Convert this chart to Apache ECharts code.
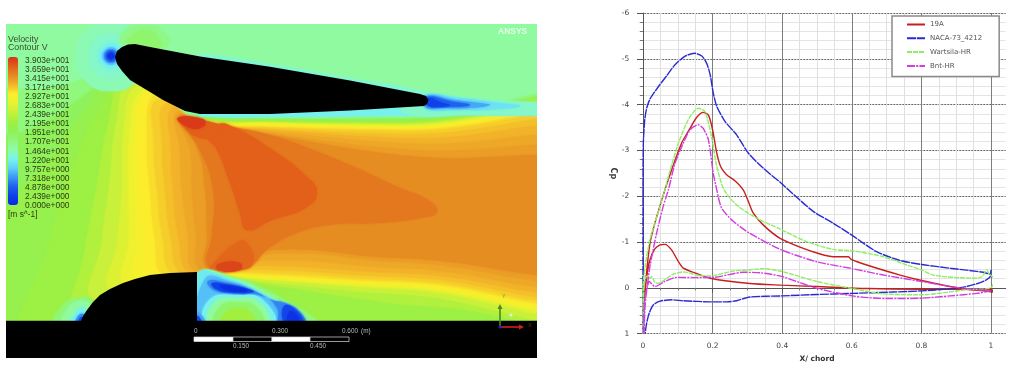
<!DOCTYPE html>
<html>
<head>
<meta charset="utf-8">
<style>
  html, body { margin: 0; padding: 0; background: #fff; }
  #chart { width: 1023px; height: 377px; }
</style>
<script src="https://cdn.jsdelivr.net/npm/echarts@6/dist/echarts.min.js"></script>
</head>
<body>
<div id="chart"></div>
<script>
// contour legend, bottom to top
const legendLabels = ["0.000e+000","2.439e+000","4.878e+000","7.318e+000","9.757e+000","1.220e+001","1.464e+001","1.707e+001","1.951e+001","2.195e+001","2.439e+001","2.683e+001","2.927e+001","3.171e+001","3.415e+001","3.659e+001","3.903e+001"];
const legendColors = ["#0a28e0","#0f40e8","#2060f0","#3c98f4","#60d0f8","#78f4ec","#90faa8","#8ff87c","#8ff055","#a0f040","#c8f03a","#e8f230","#fbee2c","#f2b42a","#e58a22","#e2601a","#d8301a"];
const velocityMax = 39.03;

// velocity contours: [level, outline], painted back to front
const outerBands = [
  [15, [[-60,15],[620,15],[620,365],[-60,365]]],
  [17, [[-60,102],[50,88],[95,75],[118,70],[160,110],[200,116],[270,118],[400,117],[620,115.5],[620,345],[-60,345]]],
  [19, [[-60,165],[40,125],[85,95],[119,71],[160,112],[200,117],[270,119],[400,119],[620,118],[620,345],[-60,345]]],
  [20.5, [[-60,260],[40,170],[85,110],[120,73],[165,114],[200,118],[270,120],[400,120.5],[620,119.5],[620,345],[-60,345]]],
  [21.5, [[35,345],[50,240],[80,150],[100,110],[122,76],[165,115],[200,118.5],[270,120.5],[400,121.5],[620,120.5],[620,345]]],
  [23, [[70,345],[85,250],[98,180],[108,125],[125,78],[165,110],[200,119],[270,122],[400,123],[620,122],[620,310],[430,306],[350,297],[270,285],[200,278]]],
  [24.5, [[95,300],[102,240],[110,180],[116,125],[130,82],[165,105],[200,119.5],[270,122.5],[400,124],[620,124],[620,303],[400,294],[270,283],[197,276]]],
  [26, [[112,290],[118,240],[122,190],[124,130],[136,87],[165,103],[200,120],[270,123],[400,125],[620,126],[620,297],[400,289],[270,280],[197,275]]],
  [27.5, [[126,285],[129,240],[129,190],[130,135],[141,92],[165,104],[200,120.5],[270,123.5],[400,126],[620,127],[620,294],[400,287],[270,279],[197,274.5]]]
];
const coreBands = [
  [28.5, [[138,280],[136,240],[134,190],[134,140],[144,94],[165,104],[200,121],[270,124],[400,127],[620,128],[620,292],[400,286],[270,278],[197,274]]],
  [29.3, [[147,92],[139,140],[140,190],[145,240],[150,276],[197,272.5],[270,276],[400,283],[620,288],[620,130],[400,128],[270,125.5],[200,122],[165,104]]],
  [30, [[152,97],[147,140],[150,190],[155,240],[163,275],[197,272],[270,275],[400,282],[620,286],[620,132],[400,129.5],[270,126.5],[200,122.5],[168,106]]],
  [30.6, [[157,100],[154,145],[157,190],[163,240],[172,274],[197,272],[270,273],[400,280],[620,283.5],[620,134],[400,131],[270,127.5],[200,123]]],
  [31.2, [[165,104],[162,145],[165,190],[171,240],[180,273],[200,271],[270,270],[400,277],[620,280],[620,138],[400,134],[270,129],[200,123.5]]],
  [31.8, [[172,108],[171,150],[173,190],[179,240],[188,272],[210,270],[270,266],[400,273],[620,276],[620,145],[400,138],[270,130],[200,124]]],
  [32.4, [[176,112],[180,150],[182,190],[188,235],[194,271],[225,270],[270,260],[400,268],[620,272],[620,155],[400,143],[270,132],[200,125]]],
  [33, [[178,115],[190,150],[192,190],[196,235],[200,270],[235,270],[270,254],[400,262],[620,268],[620,165],[400,149],[270,134],[205,125]]],
  [34, [[180,117],[198,150],[205,190],[207,235],[207,268],[240,270],[253,265],[270,250],[400,258],[620,263],[620,175],[400,155],[270,135],[210,125]]],
  [35.2, [[180,118],[200,150],[213,190],[212,235],[208,266],[230,268],[253,263],[262,254],[270,247],[297,233],[330,225],[380,223],[420,218],[437,212],[428,200],[400,188],[350,165],[300,145],[270,135],[233,127],[210,123]]],
  [36.6, [[207,135],[217,150],[230,183],[240,213],[247,230],[270,221],[307,207],[317,192],[307,177],[277,153],[233,127],[218,124]]],
  [36.6, [[178,118],[218,124],[218,130],[213,137],[197,137],[185,127]]],
  [38.5, [[178,118],[203,119],[204,126],[190,128]]],
  [36.2, [[210,267],[237,242],[247,243],[253,263],[240,270],[210,270]]],
  [38, [[218,264],[240,263],[240,270],[218,270]]]
];
const noseBands = [
  [14.2, [[76,56],[86,31],[111,21],[136,31],[146,56],[136,81],[111,91],[86,81]]],
  [13.5, [[89,56],[95,40],[111,34],[127,40],[133,56],[127,72],[111,78],[95,72]]],
  [12, [[98,56],[102,47],[111,43],[120,47],[124,56],[120,65],[111,69],[102,65]]],
  [9.5, [[102,56],[105,50],[111,47],[117,50],[120,56],[117,62],[111,65],[105,62]]],
  [6, [[104.5,56],[106,51.5],[111,49.5],[116,51.5],[117.5,56],[116,60.5],[111,62.5],[106,60.5]]],
  [3, [[106.5,56],[108,53],[111,51.5],[114,53],[115.5,56],[114,59],[111,60.5],[108,59]]],
  [1, [[108,56],[109,54.5],[111,53.5],[113,54.5],[114,56],[113,57.5],[111,58.5],[109,57.5]]],
  [16.5, [[120,42],[127,29],[143,25],[162,30],[168,46],[135,48]]],
  [18, [[129,44],[135,33],[148,30],[157,36],[160,47]]]
];
const tailBands = [
  [13, [[200,54],[270,64.5],[350,78.5],[428,92.5],[428,96],[270,67],[200,57]]],
  [12, [[200,112],[270,112],[420,104],[480,108],[620,111],[620,114.5],[400,115.5],[270,117],[200,116]]],
  [13.5, [[405,93],[440,94.5],[490,100],[620,107],[620,115],[480,114],[405,113]]],
  [11, [[425,95],[460,98],[500,103],[520,106],[500,109],[460,110],[425,108]]],
  [8, [[426,96],[455,100],[480,103],[490,105],[470,108],[440,108],[425,107]]],
  [5, [[427,97],[450,101],[470,105],[450,107],[427,106]]],
  [2.5, [[428,98],[443,103],[450,105],[437,106.5],[428,105]]]
];
const wakeBands = [
  [17, [[197,274],[240,279],[262,288],[285,300],[310,315],[318,325],[197,325]]],
  [14.5, [[197,274],[238,280],[260,290],[282,303],[305,320],[310,325],[197,325]]],
  [11.5, [[197,274],[235,281],[257,291],[279,304],[298,320],[303,325],[197,325]]],
  [9, [[205,279],[232,282],[255,292],[278,305],[296,325],[205,325]]],
  [6.5, [[208,281],[228,283],[254,291],[272,300],[285,303],[300,312],[305,325],[280,325],[277,308],[262,296],[235,294],[214,290]]],
  [2.5, [[212,283],[228,284.5],[248,289],[254,292],[235,293],[216,289]]],
  [0.5, [[220,286],[235,287],[248,291],[232,291]]],
  [3, [[284,306],[297,311],[303,325],[286,325]]],
  [1, [[289,312],[297,315],[299,325],[289,325]]],
  [12, [[207,325],[209,300],[238,295],[263,300],[273,325]]],
  [15, [[211,325],[214,303],[238,298],[260,303],[267,325]]],
  [18, [[216,325],[220,307],[238,302],[256,307],[262,325]]],
  [22, [[222,325],[226,312],[238,308],[250,312],[254,325]]],
  [8, [[197,312],[203,317],[205,325],[197,325]]],
  [3, [[197,316],[201,320],[202,325],[197,325]]],
  [17.5, [[55,325],[63,305],[78,298],[92,300],[100,325]]],
  [15, [[63,325],[69,307],[80,301],[90,305],[96,325]]],
  [12, [[72,325],[76,312],[84,308],[90,325]]],
  [7, [[76,325],[79,315],[85,315],[88,325]]],
  [3, [[78.5,325],[81,317],[84,320],[84,325]]]
];
const fieldBands = [...outerBands, ...coreBands, ...noseBands, ...tailBands, ...wakeBands];

// solid bodies in the same field coordinates
const upperFoil = [[115,57],[117,51],[122,47],[128,44.5],[135,44],[150,47],[200,56.5],[270,66.7],[350,80.5],[420,94],[426,96],[428.5,100],[427,104],[424,106],[350,110.5],[270,114],[200,114],[185,111],[177,107],[163,100],[150,92],[130,80],[122,71],[117,64]];
const lowerWall = [[6,320.7],[81,320.7],[83,316],[87,310],[93,302],[100,295],[110,289],[123,283],[135,279],[150,275],[170,273],[197,272],[197,320.7],[537,320.7],[537,358],[6,358]];

// pressure coefficient curves, [x/chord, Cp], suction side then pressure side
const names = ["19A", "NACA-73_4212", "Wartsila-HR", "Bnt-HR"];
const cp19A = [[0,1],[0.002,0.33],[0.011,-0.39],[0.02,-0.97],[0.034,-1.41],[0.063,-2.14],[0.082,-2.57],[0.111,-3.16],[0.135,-3.48],[0.154,-3.72],[0.173,-3.83],[0.188,-3.77],[0.2,-3.45],[0.212,-2.94],[0.223,-2.65],[0.24,-2.47],[0.264,-2.34],[0.288,-2.14],[0.303,-1.88],[0.317,-1.63],[0.346,-1.37],[0.394,-1.08],[0.451,-0.89],[0.509,-0.74],[0.547,-0.68],[0.59,-0.68],[0.597,-0.63],[0.643,-0.5],[0.739,-0.28],[0.801,-0.16],[0.882,-0.03],[0.93,0.03],[0.978,0.065],[1.013,0.095],[1.001,0.04],[0.93,0.03],[0.801,0.03],[0.643,0.015],[0.499,-0.03],[0.398,-0.06],[0.307,-0.095],[0.193,-0.21],[0.145,-0.34],[0.116,-0.43],[0.102,-0.57],[0.082,-0.83],[0.063,-0.95],[0.049,-0.94],[0.034,-0.85],[0.02,-0.61],[0.011,-0.25],[0.004,0.26],[0,1]];
const cpNaca = [[0,1],[0,-2.2],[0.001,-3.16],[0.005,-3.67],[0.0105,-3.92],[0.02,-4.12],[0.044,-4.39],[0.068,-4.63],[0.092,-4.87],[0.121,-5.06],[0.149,-5.12],[0.169,-5.06],[0.183,-4.9],[0.193,-4.65],[0.202,-4.25],[0.212,-3.96],[0.236,-3.63],[0.269,-3.34],[0.303,-2.94],[0.346,-2.61],[0.398,-2.28],[0.418,-2.14],[0.489,-1.67],[0.547,-1.41],[0.602,-1.14],[0.671,-0.79],[0.738,-0.6],[0.801,-0.51],[0.882,-0.43],[0.978,-0.34],[0.997,-0.3],[1,-0.39],[0.999,-0.26],[0.978,-0.14],[0.93,-0.03],[0.882,0.02],[0.801,0.065],[0.719,0.09],[0.602,0.12],[0.499,0.145],[0.398,0.175],[0.307,0.2],[0.269,0.28],[0.24,0.305],[0.193,0.305],[0.116,0.28],[0.082,0.26],[0.049,0.29],[0.03,0.37],[0.018,0.55],[0.0105,0.77],[0.006,1]];
const cpWartsila = [[0,1],[0,0.04],[0.006,-0.47],[0.02,-1.05],[0.049,-1.78],[0.063,-2.14],[0.078,-2.57],[0.102,-3.16],[0.13,-3.67],[0.159,-3.92],[0.178,-3.85],[0.197,-3.3],[0.212,-2.65],[0.233,-2.14],[0.269,-1.81],[0.327,-1.52],[0.398,-1.27],[0.47,-1.01],[0.547,-0.84],[0.602,-0.81],[0.691,-0.68],[0.758,-0.5],[0.801,-0.39],[0.834,-0.28],[0.892,-0.23],[0.959,-0.21],[0.975,-0.25],[0.988,-0.39],[0.995,-0.3],[1.011,-0.19],[0.999,0],[0.93,0.04],[0.801,0.15],[0.691,0.13],[0.602,0.015],[0.499,-0.14],[0.398,-0.36],[0.346,-0.42],[0.298,-0.39],[0.26,-0.37],[0.193,-0.26],[0.154,-0.28],[0.116,-0.35],[0.082,-0.28],[0.044,-0.1],[0.034,-0.12],[0.025,-0.25],[0.02,-0.21],[0.011,-0.26],[0.002,0.04],[0.002,1]];
const cpBnt = [[0.002,1],[0.003,0.4],[0.012,-0.03],[0.02,-0.47],[0.039,-1.19],[0.058,-1.78],[0.073,-2.14],[0.092,-2.72],[0.116,-3.16],[0.135,-3.45],[0.159,-3.56],[0.173,-3.48],[0.188,-3.23],[0.202,-2.5],[0.212,-2.14],[0.226,-1.74],[0.26,-1.45],[0.307,-1.19],[0.398,-0.83],[0.499,-0.57],[0.602,-0.42],[0.691,-0.28],[0.801,-0.14],[0.882,-0.03],[0.959,0.04],[0.999,0.06],[0.959,0.12],[0.882,0.175],[0.801,0.225],[0.7,0.233],[0.602,0.175],[0.499,0.007],[0.398,-0.25],[0.336,-0.33],[0.288,-0.34],[0.202,-0.23],[0.145,-0.225],[0.097,-0.23],[0.063,-0.14],[0.034,-0.03],[0.025,-0.09],[0.018,-0.14],[0.011,0.04],[0.006,0.4],[0.003,1]];
const curves = [cp19A, cpNaca, cpWartsila, cpBnt];
const curveColors = ["#c4201e", "#2a2ad2", "#8cf060", "#d23ce0"];
const curveDashes = ["solid", [9, 0.8], [5, 1], [8, 1.2, 2, 1.2]];

function drawOutlines(list, smooth, fillOf, blur) {
  return function (params, api) {
    const item = list[params.dataIndex];
    const outline = Array.isArray(item[0]) ? item : item[1];
    const fill = fillOf(api);
    return {
      type: "polygon",
      shape: { points: outline.map(p => api.coord(p)), smooth: smooth },
      style: { fill: fill, shadowBlur: blur, shadowColor: fill }
    };
  };
}

function fieldText(x, y, text, size, color, align, extra) {
  return {
    type: "text", left: x, top: y, z: 20,
    style: Object.assign({ text: text, fontFamily: "Liberation Sans", fontSize: size, fill: color, textAlign: align || "left" }, extra || {})
  };
}
function scaleCell(x, w, fill) {
  return { type: "rect", z: 20, shape: { x: x, y: 337, width: w, height: 4.5 }, style: { fill: fill, stroke: "#ddd", lineWidth: 0.7 } };
}

const chart = echarts.init(document.getElementById("chart"));
const cpTop = 13, cpBottom = 377 - 333.7;
chart.setOption({
  animation: false,
  backgroundColor: "#fff",
  textStyle: { fontFamily: "Liberation Sans" },
  grid: [
    { left: 6, top: 24, width: 531, height: 334 },                         // contour field
    { left: 18, top: 60.7, width: 1, height: 144.8 },                      // colour bar labels
    { left: 638.3, top: cpTop, width: 367.4, bottom: cpBottom },           // Cp frame
    { left: 643, top: cpTop, width: 348, bottom: cpBottom }                // Cp chord range
  ],
  xAxis: [
    { gridIndex: 0, type: "value", min: 6, max: 537, show: false },
    { gridIndex: 1, type: "value", min: 0, max: 1, show: false },
    {
      gridIndex: 2, type: "value", min: -0.0135, max: 1.042,
      axisLine: { lineStyle: { color: "#555", width: 1 } },
      axisTick: { show: false }, axisLabel: { show: false }, splitLine: { show: false }
    },
    {
      gridIndex: 3, type: "value", min: 0, max: 1, interval: 0.2,
      name: "X/ chord", nameLocation: "middle", nameGap: 19,
      nameTextStyle: { fontFamily: "DejaVu Sans", fontSize: 7.5, fontWeight: "bold", color: "#333" },
      axisLine: { show: false },
      axisTick: { length: 5, lineStyle: { color: "#555" } },
      minorTick: { show: true, splitNumber: 4, length: 2.5, lineStyle: { color: "#777" } },
      axisLabel: { fontFamily: "DejaVu Sans", fontSize: 7.5, color: "#444", margin: 8 },
      splitLine: { show: true, lineStyle: { color: "#7d7d7d", width: 1 } },
      minorSplitLine: { show: true, lineStyle: { color: "#e0e0e0", width: 1 } }
    }
  ],
  yAxis: [
    { gridIndex: 0, type: "value", min: 24, max: 358, inverse: true, show: false },
    {
      gridIndex: 1, type: "category", data: legendLabels, boundaryGap: false, position: "right", min: 0, max: 16, z: 15,
      axisLine: { show: false }, axisTick: { show: false }, splitLine: { show: false },
      axisLabel: { interval: 0, margin: 6, fontFamily: "Liberation Sans", fontSize: 8.4, color: "#2b3a10" }
    },
    {
      gridIndex: 2, type: "value", min: -6, max: 1, interval: 1, inverse: true,
      name: "Cp", nameLocation: "middle", nameGap: 21, nameRotate: -90,
      nameTextStyle: { fontFamily: "DejaVu Sans", fontSize: 8, fontWeight: "bold", color: "#333" },
      axisLine: { show: true, lineStyle: { color: "#555", width: 1 } },
      axisTick: { show: true, length: 6, lineStyle: { color: "#555" } },
      minorTick: { show: true, splitNumber: 5, length: 3, lineStyle: { color: "#777" } },
      axisLabel: { fontFamily: "DejaVu Sans", fontSize: 7.5, color: "#444", margin: 9 },
      splitLine: { show: true, lineStyle: { color: "#666", type: [2, 1], width: 1 } },
      minorSplitLine: { show: true, lineStyle: { color: "#e4e4e4", width: 1 } }
    },
    { gridIndex: 3, type: "value", min: -6, max: 1, inverse: true, show: false }
  ],
  visualMap: {
    type: "continuous", seriesIndex: 0, dimension: 0, min: 0, max: velocityMax,
    calculable: false, hoverLink: false, left: 8, top: 57, itemWidth: 10, itemHeight: 148, padding: 0,
    inRange: { color: legendColors }
  },
  legend: {
    orient: "vertical", left: 892, top: 16, itemWidth: 18, itemHeight: 8, itemGap: 6.8,
    itemStyle: { opacity: 0 },
    padding: [5, 17, 7, 14], backgroundColor: "#fff", borderColor: "#8a8a8a", borderWidth: 1.5,
    textStyle: { fontFamily: "DejaVu Sans", fontSize: 7, color: "#555" },
    data: names, z: 10
  },
  series: [
    {
      type: "custom", xAxisIndex: 0, yAxisIndex: 0, clip: true, silent: true,
      data: fieldBands.map((b, i) => [b[0], i]),
      renderItem: drawOutlines(fieldBands, 0.5, api => api.visual("color"), 2.5)
    },
    {
      type: "custom", xAxisIndex: 0, yAxisIndex: 0, clip: true, silent: true,
      data: [[0, 0], [1, 0]],
      renderItem: drawOutlines([upperFoil, lowerWall], 0, () => "#000", 0)
    }
  ].concat(curves.map((data, i) => ({
    name: names[i], type: "line", xAxisIndex: 3, yAxisIndex: 3, data: data,
    showSymbol: false, symbol: "none", smooth: 0.25, clip: false, z: 5,
    itemStyle: { color: curveColors[i] },
    lineStyle: { color: curveColors[i], width: 1.4, type: curveDashes[i] }
  }))),
  graphic: [
    fieldText(8, 35, "Velocity", 8.8, "#3c4a30"),
    fieldText(8, 43.5, "Contour V", 8.8, "#3c4a30"),
    fieldText(8, 211, "[m s^-1]", 8.4, "#2b3a10"),
    fieldText(498, 27, "ANSYS", 8.5, "rgba(255,255,255,0.75)", "left", { fontWeight: "bold" }),
    scaleCell(194, 39, "#fff"), scaleCell(233, 39, "#000"), scaleCell(272, 38, "#fff"), scaleCell(310, 39, "#000"),
    fieldText(194, 328, "0", 6.4, "#bbb", "center"),
    fieldText(272, 328, "0.300", 6.4, "#bbb", "center"),
    fieldText(342, 328, "0.600", 6.4, "#bbb", "center"),
    fieldText(361, 328, "(m)", 6.4, "#bbb", "center"),
    fieldText(233, 343, "0.150", 6.4, "#bbb", "center"),
    fieldText(310, 343, "0.450", 6.4, "#bbb", "center"),
    { type: "line", z: 20, shape: { x1: 500, y1: 327, x2: 500, y2: 306 }, style: { stroke: "#4c8a20", lineWidth: 1.6 } },
    { type: "polygon", z: 20, shape: { points: [[497.5, 309], [502.5, 309], [500, 304]] }, style: { fill: "#4c8a20" } },
    { type: "line", z: 20, shape: { x1: 500, y1: 327, x2: 521, y2: 327 }, style: { stroke: "#d02020", lineWidth: 1.6 } },
    { type: "polygon", z: 20, shape: { points: [[519, 324.5], [519, 329.5], [524, 327]] }, style: { fill: "#d02020" } },
    { type: "circle", z: 21, shape: { cx: 500, cy: 327, r: 1.6 }, style: { fill: "#2020d0" } },
    { type: "circle", z: 21, shape: { cx: 511, cy: 315, r: 1.6 }, style: { fill: "#d8f0f0" } },
    fieldText(502, 293, "Y", 5.5, "#6aa040"),
    fieldText(528, 322, "X", 5.5, "#7a2020")
  ]
});
</script>
</body>
</html>
